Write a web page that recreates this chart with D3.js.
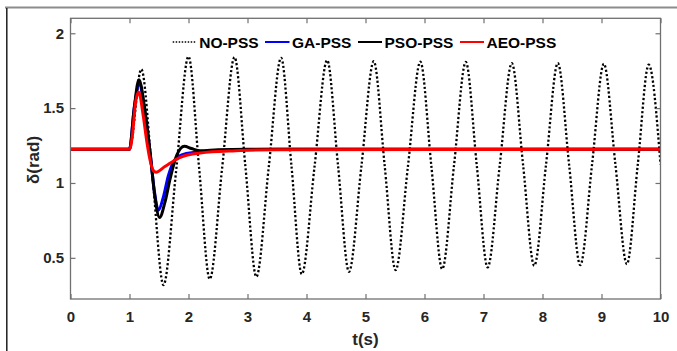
<!DOCTYPE html>
<html>
<head>
<meta charset="utf-8">
<script src="https://cdn.jsdelivr.net/npm/d3@7"></script>
<style>
  body { margin: 0; background: #fff; }
  svg text { font-family: "Liberation Sans", Arial, sans-serif; font-weight: bold; }
</style>
</head>
<body>
<div id="chart"></div>
<script>
// values
const xTicks = [0, 1, 2, 3, 4, 5, 6, 7, 8, 9, 10];
const yTicks = [0.5, 1, 1.5, 2];

const noPssT = [0, 1.0, 1.2, 1.39, 1.576, 1.79, 2.0, 2.18, 2.36, 2.57, 2.78, 2.965, 3.15, 3.36, 3.57,
  3.745, 3.92, 4.135, 4.35, 4.535, 4.72, 4.93, 5.14, 5.325, 5.51, 5.72, 5.93, 6.115, 6.30, 6.50, 6.70,
  6.885, 7.07, 7.275, 7.48, 7.67, 7.86, 8.06, 8.26, 8.45, 8.64, 8.84, 9.04, 9.235, 9.43, 9.615, 9.80, 10.0];
const noPssV = [1.225, 1.225, 1.76, 1.04, 0.318, 1.08, 1.845, 1.10, 0.358, 1.10, 1.84, 1.107, 0.373, 1.105, 1.836,
  1.114, 0.391, 1.105, 1.82, 1.114, 0.407, 1.11, 1.813, 1.116, 0.418, 1.114, 1.81, 1.118, 0.425, 1.117, 1.808,
  1.122, 0.436, 1.118, 1.80, 1.124, 0.447, 1.124, 1.80, 1.126, 0.451, 1.124, 1.796, 1.127, 0.458, 1.124, 1.79, 1.125];

const gaPssT = [0, 1.0, 1.08, 1.17, 1.25, 1.35, 1.42, 1.49, 1.57, 1.66, 1.76, 1.9, 2.1, 2.4, 2.8, 3.5, 10];
const gaPssV = [1.225, 1.225, 1.5, 1.665, 1.5, 1.2, 0.95, 0.818, 0.9, 1.05, 1.15, 1.19, 1.205, 1.215, 1.222, 1.225, 1.225];

const psoPssT = [0, 1.0, 1.08, 1.16, 1.25, 1.35, 1.43, 1.51, 1.6, 1.69, 1.8, 1.93, 2.05, 2.2, 2.5, 3.0, 10];
const psoPssV = [1.225, 1.225, 1.5, 1.69, 1.52, 1.2, 0.91, 0.769, 0.87, 1.03, 1.185, 1.245, 1.23, 1.215, 1.222, 1.225, 1.225];

const aeoPssT = [0, 1.0, 1.05, 1.1, 1.155, 1.236, 1.29, 1.35, 1.4, 1.45, 1.6, 1.85, 2.2, 2.8, 3.5, 10];
const aeoPssV = [1.225, 1.225, 1.32, 1.53, 1.607, 1.44, 1.285, 1.15, 1.085, 1.072, 1.11, 1.17, 1.2, 1.215, 1.222, 1.225];

const seriesNames = ['NO-PSS', 'GA-PSS', 'PSO-PSS', 'AEO-PSS'];
const seriesColors = ['#000000', '#0000ff', '#000000', '#ff0000'];

function toPoints(ts, vs) {
  return ts.map((t, i) => ({ t: t, v: vs[i] }));
}

const series = [
  { name: seriesNames[0], color: seriesColors[0], dotted: true, pts: toPoints(noPssT, noPssV) },
  { name: seriesNames[1], color: seriesColors[1], dotted: false, pts: toPoints(gaPssT, gaPssV) },
  { name: seriesNames[2], color: seriesColors[2], dotted: false, pts: toPoints(psoPssT, psoPssV) },
  { name: seriesNames[3], color: seriesColors[3], dotted: false, pts: toPoints(aeoPssT, aeoPssV) },
];

const width = 677;
const height = 351;
const margin = { left: 70.5, right: 16.5, top: 18.3, bottom: 52 };

const svg = d3.select('#chart').append('svg')
  .attr('width', width)
  .attr('height', height);

// figure frame (partly outside the window)
svg.append('line')
  .attr('x1', 5).attr('x2', width).attr('y1', 7.5).attr('y2', 7.5)
  .attr('stroke', '#8c8c8c').attr('stroke-width', 2);
svg.append('line')
  .attr('x1', 6.8).attr('x2', 6.8).attr('y1', 8).attr('y2', height)
  .attr('stroke', '#1e1e1e').attr('stroke-width', 1.5);

const x = d3.scaleLinear().domain([0, 10]).range([margin.left, width - margin.right]);
const y = d3.scaleLinear().domain([0.225, 2.1]).range([height - margin.bottom, margin.top]);

const plot = svg.append('g');

plot.append('clipPath').attr('id', 'clip')
  .append('rect')
  .attr('x', x(0)).attr('y', y(2.1))
  .attr('width', x(10) - x(0)).attr('height', y(0.225) - y(2.1));

const line = d3.line()
  .x(d => x(d.t))
  .y(d => y(d.v))
  .curve(d3.curveMonotoneX);

plot.append('g')
  .attr('clip-path', 'url(#clip)')
  .selectAll('path')
  .data(series)
  .join('path')
  .attr('d', d => line(d.pts))
  .attr('fill', 'none')
  .attr('stroke', d => d.color)
  .attr('stroke-width', d => d.dotted ? 2.3 : 3)
  .attr('stroke-dasharray', d => d.dotted ? '2.2,2.2' : null)
  .attr('stroke-linejoin', 'round');

// axes, ticks pointing inward on all four sides
const axisColor = '#707070';
const tickColor = '#262626';

function styleAxis(g, keepText) {
  g.select('.domain').remove();
  g.selectAll('.tick line').attr('stroke', axisColor).attr('stroke-width', 1.2);
  if (keepText) {
    g.selectAll('.tick text')
      .attr('fill', tickColor)
      .style('font-size', '15px');
  } else {
    g.selectAll('.tick text').remove();
  }
}

svg.append('g')
  .attr('transform', `translate(0, ${y(0.225)})`)
  .call(d3.axisBottom(x).tickValues(xTicks).tickSize(-5).tickPadding(12).tickFormat(d3.format('d')))
  .call(g => styleAxis(g, true));

svg.append('g')
  .attr('transform', `translate(0, ${y(2.1)})`)
  .call(d3.axisTop(x).tickValues(xTicks).tickSize(-5))
  .call(g => styleAxis(g, false));

svg.append('g')
  .attr('transform', `translate(${x(0)}, 0)`)
  .call(d3.axisLeft(y).tickValues(yTicks).tickSize(-5).tickPadding(6.5).tickFormat(d => d))
  .call(g => styleAxis(g, true));

svg.append('g')
  .attr('transform', `translate(${x(10)}, 0)`)
  .call(d3.axisRight(y).tickValues(yTicks).tickSize(-5))
  .call(g => styleAxis(g, false));

svg.append('rect')
  .attr('x', x(0)).attr('y', y(2.1))
  .attr('width', x(10) - x(0)).attr('height', y(0.225) - y(2.1))
  .attr('fill', 'none')
  .attr('stroke', axisColor)
  .attr('stroke-width', 1.3);

// axis titles
svg.append('text')
  .text('t(s)')
  .attr('x', x(5))
  .attr('y', 345)
  .attr('text-anchor', 'middle')
  .attr('fill', tickColor)
  .style('font-size', '17px');

svg.append('text')
  .text('δ(rad)')
  .attr('transform', `translate(39, ${160}) rotate(-90)`)
  .attr('text-anchor', 'middle')
  .attr('fill', tickColor)
  .style('font-size', '17px');

// legend in one row at the top
const legendItems = [
  { s: series[0], x0: 172.7, x1: 196.7 },
  { s: series[1], x0: 265, x1: 289.5 },
  { s: series[2], x0: 358, x1: 382 },
  { s: series[3], x0: 460, x1: 484 },
];
const legendY = 42;

const legend = svg.append('g').attr('class', 'legend');
const item = legend.selectAll('g')
  .data(legendItems)
  .join('g');

item.append('line')
  .attr('x1', d => d.x0).attr('x2', d => d.x1)
  .attr('y1', legendY).attr('y2', legendY)
  .attr('stroke', d => d.s.color)
  .attr('stroke-width', d => d.s.dotted ? 1.5 : 2)
  .attr('stroke-dasharray', d => d.s.dotted ? '1.5,1.5' : null);

item.append('text')
  .text(d => d.s.name)
  .attr('x', d => d.x1 + 2.5)
  .attr('y', legendY)
  .attr('dy', '0.36em')
  .attr('fill', '#000')
  .style('font-size', '15.5px');
</script>
</body>
</html>
